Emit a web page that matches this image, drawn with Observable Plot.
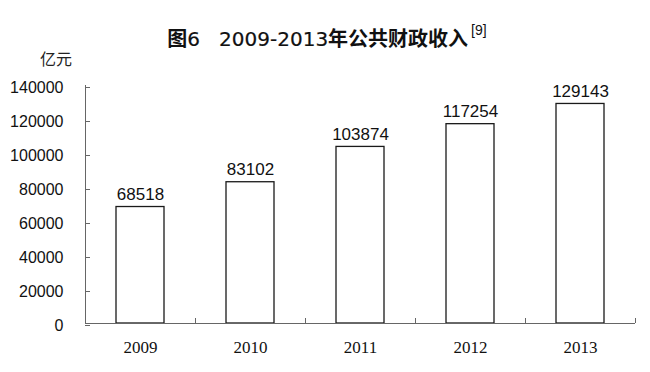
<!DOCTYPE html>
<html><head><meta charset="utf-8">
<script src="https://cdn.jsdelivr.net/npm/d3@7"></script>
<script src="https://cdn.jsdelivr.net/npm/@observablehq/plot@0.6"></script>
<style>
body{margin:0;background:#fff;}
#wrap{position:relative;width:650px;height:372px;}
#title{position:absolute;left:2px;width:650px;top:20px;height:26px;line-height:26px;text-align:center;font-family:"DejaVu Sans","Noto Sans CJK SC",sans-serif;font-size:20px;font-weight:normal;-webkit-text-stroke:0.2px #111;color:#111;white-space:nowrap;}
#title .cjk{font-family:"Noto Sans CJK SC",sans-serif;font-weight:bold;-webkit-text-stroke:0;}
#title sup{font-size:14px;-webkit-text-stroke:0;font-family:"Liberation Sans",sans-serif;position:relative;top:-3px;margin-left:3px;}
#unit{position:absolute;left:40px;top:47px;line-height:22px;font-family:"Noto Sans CJK SC",sans-serif;font-size:16px;color:#222;}
#chart{position:absolute;left:0;top:0;}
</style></head>
<body><div id="wrap">
<div id="chart"></div>
<div id="title"><span class="cjk">图</span>6&nbsp;&nbsp;&nbsp;2009-2013<span class="cjk">年公共财政收入</span><sup>[9]</sup></div>
<div id="unit">亿元</div>
</div>
<script>
const years = ["2009","2010","2011","2012","2013"];
const revenue = [68518, 83102, 103874, 117254, 129143];
const yTicks = [0,20000,40000,60000,80000,100000,120000,140000];

const data = years.map((y,i)=>({year:y, value:revenue[i]}));
const W = 650, H = 372, mL = 85, mR = 15, mT = 85, mB = 49;
const step = (W - mL - mR) / years.length;
const axisColor = "#666";

const plot = Plot.plot({
  width: W, height: H,
  marginLeft: mL, marginRight: mR, marginTop: mT, marginBottom: mB,
  style: {background: "transparent"},
  x: {domain: years, paddingInner: 0.564, paddingOuter: 0.282, label: null},
  y: {domain: [0,140000], label: null},
  marks: [
    Plot.barY(data, {x:"year", y:"value", fill:"white", stroke:"#1a1a1a", strokeWidth:1.3}),
    Plot.text(data, {x:"year", y:"value", text: d=>String(d.value), lineAnchor:"bottom", dy:-7, fontSize:17, fontFamily:"Liberation Sans, Arial, sans-serif", fill:"#111"}),
    Plot.axisY({ticks: yTicks, tickSize: -5, tickPadding: 27, tickFormat: d=>String(d), dy: 2, fontSize:16, fontFamily:"Liberation Sans, Arial, sans-serif", stroke:axisColor, color:"#111"}),
    Plot.axisX({tickSize: -5, text: null, dx: step/2, stroke:axisColor}),
    Plot.axisX({tickSize: 0, tickPadding: 17, fontSize:17, fontFamily:"Liberation Serif, serif", color:"#111"}),
    Plot.ruleX([0], {x: ()=>years[0], dx: -step/2, y1: 0, y2: 140000, stroke:axisColor}),
    Plot.ruleY([0], {stroke:axisColor})
  ]
});
document.getElementById("chart").appendChild(plot);
</script>
</body></html>
